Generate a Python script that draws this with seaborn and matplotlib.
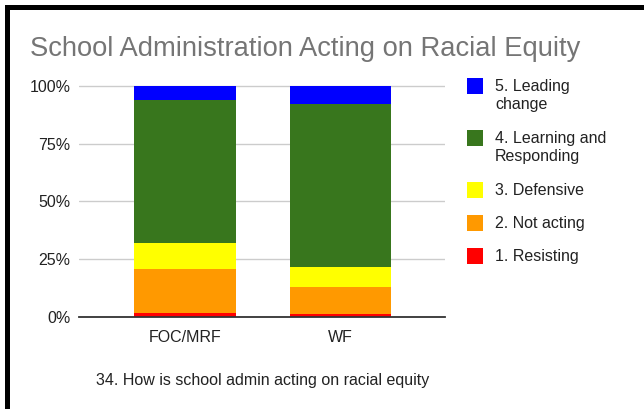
import textwrap

import matplotlib
matplotlib.use("Agg")
import matplotlib.pyplot as plt
from matplotlib.patches import Rectangle
from matplotlib.ticker import FuncFormatter
import pandas as pd
import seaborn as sns

# Survey groups and response levels (percent of respondents)
groups = ["FOC/MRF", "WF"]
levels = ["1. Resisting", "2. Not acting", "3. Defensive",
          "4. Learning and Responding", "5. Leading change"]
foc_mrf = [1.7, 19.0, 11.2, 62.1, 6.0]
wf = [1.1, 11.8, 8.9, 70.3, 7.9]
level_colors = ["#ff0000", "#ff9900", "#ffff00", "#38761d", "#0000ff"]

title = "School Administration Acting on Racial Equity"
x_title = "34. How is school admin acting on racial equity"
y_ticks = [0, 25, 50, 75, 100]

sns.set_theme(style="white")
plt.rcParams["font.family"] = ["Liberation Sans", "DejaVu Sans"]

rows = []
for g, vals in zip(groups, [foc_mrf, wf]):
    running = 0.0
    for lvl, v in zip(levels, vals):
        running += v
        rows.append({"group": g, "level": lvl, "value": v, "cum": running})
df = pd.DataFrame(rows)

fig = plt.figure(figsize=(6.44, 4.09), dpi=100)
W, H = 644, 409
ax = fig.add_axes([79 / W, 1 - 317 / H, (445 - 79) / W, (317 - 85) / H])

# Stacked bars: draw cumulative totals from the top level down
for lvl, col in reversed(list(zip(levels, level_colors))):
    sub = df[df["level"] == lvl]
    sns.barplot(data=sub, x="group", y="cum", order=groups, color=col,
                saturation=1, width=0.65, errorbar=None, ax=ax,
                linewidth=0)

ax.set_xlim(-0.68, 1.67)
ax.set_ylim(0, 100.3)
ax.set_yticks(y_ticks)
ax.yaxis.set_major_formatter(FuncFormatter(lambda v, _: f"{v:.0f}%"))
ax.yaxis.grid(True, color="#cccccc", linewidth=1)
ax.set_axisbelow(True)
for side in ["top", "right", "left"]:
    ax.spines[side].set_visible(False)
ax.spines["bottom"].set_color("#333333")
ax.spines["bottom"].set_linewidth(1.3)
ax.tick_params(axis="both", length=0, labelsize=11.5, colors="#222222")
ax.tick_params(axis="y", pad=6)
ax.tick_params(axis="x", pad=9)
ax.set_xlabel("")
ax.set_ylabel("")

fig.text(30 / W, 1 - 55.5 / H, title, fontsize=19.7, color="#757575",
         ha="left", va="baseline")
fig.text(263 / W, 1 - 385 / H, x_title, fontsize=11.5, color="#222222",
         ha="center", va="baseline")

# Legend, top entry first
y_top = 77.7
for lvl, col in reversed(list(zip(levels, level_colors))):
    label = textwrap.fill(lvl, width=15)
    n_lines = label.count("\n") + 1
    fig.add_artist(Rectangle((467 / W, 1 - (y_top + 16) / H), 16 / W, 16 / H,
                             transform=fig.transFigure, facecolor=col,
                             edgecolor="none"))
    fig.text(495 / W, 1 - (y_top + 1) / H, label, fontsize=11.5,
             color="#222222", ha="left", va="top", linespacing=1.25)
    y_top += 33 + 19 * (n_lines - 1)

# Frame edges along the top and left
fig.add_artist(Rectangle((5 / W, 1 - 10 / H), 1, 5 / H,
                         transform=fig.transFigure, facecolor="black",
                         edgecolor="none"))
fig.add_artist(Rectangle((5 / W, 0), 5 / W, 1 - 5 / H,
                         transform=fig.transFigure, facecolor="black",
                         edgecolor="none"))

fig.savefig("out.png", dpi=100, facecolor="white")
